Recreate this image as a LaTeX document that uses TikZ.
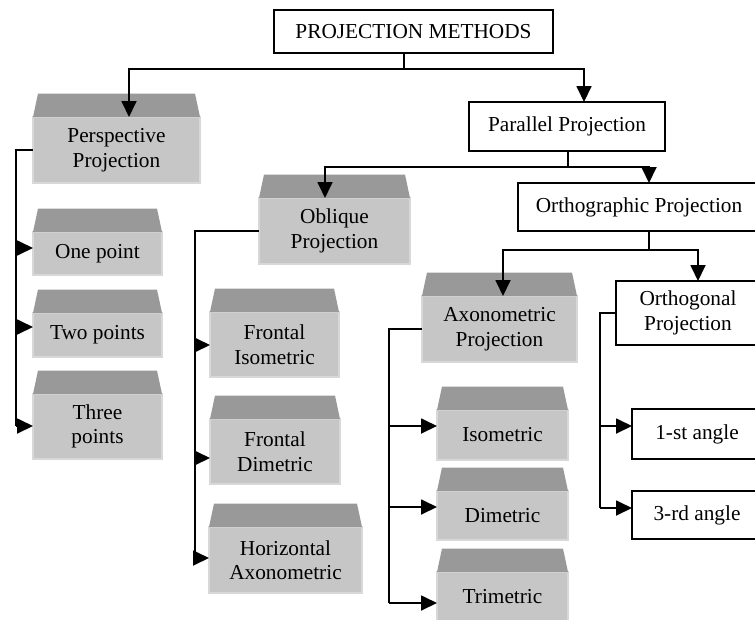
\documentclass[tikz,border=0pt]{standalone}
\usepackage{fontspec}
\setmainfont{Liberation Serif}
\usetikzlibrary{arrows.meta}
\definecolor{facegray}{RGB}{198,198,198}
\definecolor{topgray}{RGB}{153,153,153}
\definecolor{rimgray}{RGB}{216,216,216}
\begin{document}
\begin{tikzpicture}[x=1pt,y=-1pt,
  txt/.style={font=\fontsize{21.3}{24.5}\selectfont, align=center, inner sep=0pt, outer sep=0pt},
  wbox/.style={txt, draw=black, line width=1.8pt, fill=white},
  gface/.style={txt, fill=facegray, draw=rimgray, line width=1.2pt},
  conn/.style={line width=1.8pt, draw=black},
  arr/.style={conn, -{Triangle[length=16pt,width=15pt]}}]
\useasboundingbox (0,0) rectangle (755,619);
\clip (0,0) rectangle (755,619);

% white boxes
\node[wbox, minimum width=279pt, minimum height=43pt] (top) at (413.5,31.5) {PROJECTION METHODS};
\node[wbox, minimum width=196pt, minimum height=49pt] (par) at (567,126.5) {Parallel Projection};
\node[wbox, minimum width=242pt, minimum height=48pt] (ortho) at (639,207) {Orthographic Projection};
\node[wbox, minimum width=144pt, minimum height=64pt] (orthog) at (688,313) {Orthogonal\\Projection};
\node[wbox, minimum width=130pt, minimum height=50pt] (first) at (697,434) {1-st angle};
\node[wbox, minimum width=130pt, minimum height=48pt] (third) at (697,515) {3-rd angle};

% gray 3D boxes (front faces)
\node[gface, minimum width=167pt, minimum height=66pt] (persp) at (116.5,150) {Perspective\\Projection};
\node[gface, minimum width=129pt, minimum height=43pt] (one) at (97.5,253.5) {One point};
\node[gface, minimum width=129pt, minimum height=44pt] (two) at (97.5,335) {Two points};
\node[gface, minimum width=129pt, minimum height=65pt] (three) at (97.5,426.5) {Three\\points};
\node[gface, minimum width=151pt, minimum height=66pt] (obl) at (334.5,231) {Oblique\\Projection};
\node[gface, minimum width=129pt, minimum height=65pt] (fiso) at (274.5,344.5) {Frontal\\Isometric};
\node[gface, minimum width=130pt, minimum height=65pt] (fdim) at (275,451.5) {Frontal\\Dimetric};
\node[gface, minimum width=153pt, minimum height=66pt] (hax) at (285.5,560) {Horizontal\\Axonometric};
\node[gface, minimum width=155pt, minimum height=66pt] (axo) at (499.5,329) {Axonometric\\Projection};
\node[gface, minimum width=131pt, minimum height=50pt] (iso) at (502.5,435) {Isometric};
\node[gface, minimum width=131pt, minimum height=49pt] (dim) at (502.5,515.5) {Dimetric};
\node[gface, minimum width=131pt, minimum height=49pt] (tri) at (502.5,596.5) {Trimetric};

% top faces of the gray boxes
\foreach \n in {persp,one,two,three,obl,fiso,fdim,hax,axo,iso,dim,tri}{
  \fill[topgray] (\n.north west) -- ([xshift=5pt,yshift=23.5pt]\n.north west)
    -- ([xshift=-5pt,yshift=23.5pt]\n.north east) -- (\n.north east) -- cycle;
}

% level 1
\coordinate (tj) at (404,69);
\coordinate (tA) at (129,69);
\coordinate (tB) at (584,69);
\draw[conn] (top.south -| tj) -- (tj);
\draw[arr] (tj) -| (persp.north -| tA);
\draw[arr] (tj) -| (par.north -| tB);

% level 2
\coordinate (q) at (568,167);
\coordinate (qA) at (325,167);
\coordinate (qB) at (649,167);
\draw[conn] (par.south -| q) -- (q);
\draw[arr] (q) -| (obl.north -| qA);
\draw[arr] (q) -| (ortho.north -| qB);

% level 3
\coordinate (r) at (649,250);
\coordinate (rA) at (503,250);
\coordinate (rB) at (698,250);
\draw[conn] (ortho.south -| r) -- (r);
\draw[arr] (r) -| (axo.north -| rA);
\draw[arr] (r) -| (orthog.north -| rB);

% perspective bus
\coordinate (p1) at (16,248);
\coordinate (p2) at (16,327);
\coordinate (p3) at (16,426);
\draw[conn] (persp.west) -| (p3);
\draw[arr] (p1) -- (one.west |- p1);
\draw[arr] (p2) -- (two.west |- p2);
\draw[arr] (p3) -- (three.west |- p3);

% oblique bus
\coordinate (o1) at (195,345);
\coordinate (o2) at (195,458);
\coordinate (o3) at (195,558);
\draw[conn] (obl.west) -| (o3);
\draw[arr] (o1) -- (fiso.west |- o1);
\draw[arr] (o2) -- (fdim.west |- o2);
\draw[arr] (o3) -- (hax.west |- o3);

% axonometric bus
\coordinate (a1) at (389,426);
\coordinate (a2) at (389,507);
\coordinate (a3) at (389,603);
\draw[conn] (axo.west) -| (a3);
\draw[arr] (a1) -- (iso.west |- a1);
\draw[arr] (a2) -- (dim.west |- a2);
\draw[arr] (a3) -- (tri.west |- a3);

% orthogonal bus
\coordinate (g1) at (600,426);
\coordinate (g2) at (600,508);
\draw[conn] (orthog.west) -| (g2);
\draw[arr] (g1) -- (first.west |- g1);
\draw[arr] (g2) -- (third.west |- g2);
\end{tikzpicture}
\end{document}
